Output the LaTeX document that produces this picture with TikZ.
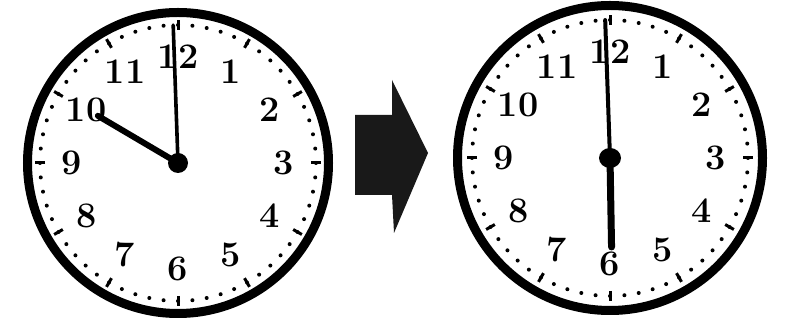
\documentclass[tikz,border=0pt]{standalone}
\usepackage{fontspec}
\usepackage{tikz}
\usetikzlibrary{calc}

\tikzset{
  rim/.style={line width=9pt},
  hourtick/.style={line width=3pt},
  numeral/.style={font=\fontsize{36}{36}\selectfont\bfseries, inner sep=0pt},
  minutehand/.style={line width=3.6pt, line cap=round},
  hourhand/.style={line width=6pt, line cap=round},
}

% one clock face: name, centre, rim radius
\newcommand{\clockface}[3]{%
  \coordinate (#1) at (#2);
  \draw[rim] (#1) circle (#3);
  \foreach \m in {0,...,59} {
    \fill ($(#1)+(6*\m:138)$) circle (2);
  }
  \foreach \h in {1,...,12} {
    \draw[hourtick] ($(#1)+(90-30*\h:133)$) -- ($(#1)+(90-30*\h:143)$);
    \node[numeral] (#1-\h) at ($(#1)+(90-30*\h:106)$) {\h};
  }
}

\begin{document}
\begin{tikzpicture}[x=1pt, y=1pt]
  \useasboundingbox (0,0) rectangle (790,326);

  % ten o'clock
  \clockface{left}{178,163}{150.5}
  \draw[hourhand] (left) -- ++(149.5:93);
  \draw[minutehand] (left) -- ++(92:138);
  \fill (left) circle (10);

  % arrow
  \fill[black!90] (355,211) -- (392,211) -- (392,246) -- (428,173)
        -- (394,93) -- (392,131) -- (355,131) -- cycle;

  % six o'clock
  \clockface{right}{610,168}{152.5}
  \draw[minutehand, line width=4pt] (right) -- ++(92:138);
  \draw[hourhand, line width=7pt] (right) -- ++(-89:89);
  \fill (right) ellipse (11 and 10);
\end{tikzpicture}
\end{document}
